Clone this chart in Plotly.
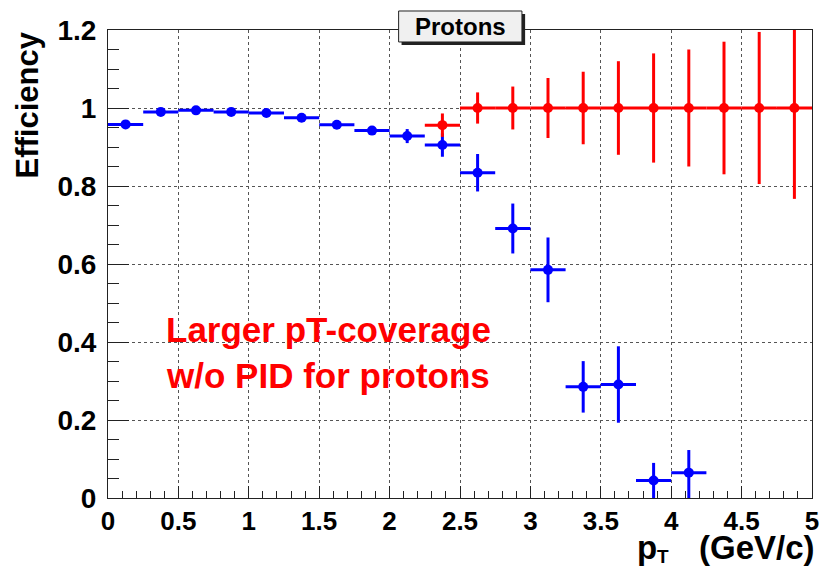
import plotly.graph_objects as go

# ---- data ----
x_blue = [0.125, 0.375, 0.625, 0.875, 1.125, 1.375, 1.625, 1.875, 2.125, 2.375,
          2.625, 2.875, 3.125, 3.375, 3.625, 3.875, 4.125]
y_blue = [0.958, 0.990, 0.994, 0.990, 0.987, 0.975, 0.957, 0.942, 0.928, 0.905,
          0.834, 0.691, 0.585, 0.285, 0.291, 0.045, 0.065]
ey_blue_up = [0.004, 0.003, 0.003, 0.003, 0.004, 0.005, 0.006, 0.008, 0.018, 0.030,
              0.048, 0.064, 0.083, 0.066, 0.098, 0.045, 0.058]
ey_blue_dn = [0.004, 0.003, 0.003, 0.003, 0.004, 0.005, 0.006, 0.008, 0.018, 0.030,
              0.048, 0.064, 0.083, 0.066, 0.098, 0.045, 0.065]

x_red = [2.375, 2.625, 2.875, 3.125, 3.375, 3.625, 3.875, 4.125, 4.375, 4.625, 4.875]
y_red = [0.956, 1.0, 1.0, 1.0, 1.0, 1.0, 1.0, 1.0, 1.0, 1.0, 1.0]
ey_red = [0.030, 0.040, 0.055, 0.077, 0.093, 0.120, 0.140, 0.150, 0.170, 0.195, 0.233]

bin_half = 0.125

x_ticks = [0, 0.5, 1, 1.5, 2, 2.5, 3, 3.5, 4, 4.5, 5]
x_labels = ["0", "0.5", "1", "1.5", "2", "2.5", "3", "3.5", "4", "4.5", "5"]
y_ticks = [0, 0.2, 0.4, 0.6, 0.8, 1.0, 1.2]
y_labels = ["0", "0.2", "0.4", "0.6", "0.8", "1", "1.2"]

FONT = "Liberation Sans, Arial, Helvetica, sans-serif"

fig = go.Figure()

fig.add_trace(go.Scatter(
    x=x_blue, y=y_blue, mode="markers",
    marker=dict(color="#0000ff", size=10, symbol="circle"),
    error_x=dict(type="constant", value=bin_half, color="#0000ff", thickness=3, width=0),
    error_y=dict(type="data", array=ey_blue_up, arrayminus=ey_blue_dn, symmetric=False,
                 color="#0000ff", thickness=3, width=0),
    showlegend=False,
))

fig.add_trace(go.Scatter(
    x=x_red, y=y_red, mode="markers",
    marker=dict(color="#ff0000", size=10, symbol="circle"),
    error_x=dict(type="constant", value=bin_half, color="#ff0000", thickness=3, width=0),
    error_y=dict(type="data", array=ey_red, color="#ff0000", thickness=3, width=0),
    showlegend=False,
))

axis_common = dict(
    showline=True, linecolor="#222222", linewidth=1, mirror=True,
    showgrid=True, gridcolor="#555555", griddash="dot", gridwidth=1,
    zeroline=False, ticks="inside", tickcolor="#222222",
)

fig.update_xaxes(
    range=[0, 5], tickvals=x_ticks, ticktext=x_labels, ticklen=12, tickwidth=1,
    minor=dict(dtick=0.1, ticks="inside", ticklen=7, tickcolor="#222222", showgrid=False),
    ticklabelstandoff=0,
    tickfont=dict(family=FONT, size=26, color="black", weight="bold"),
    **axis_common,
)
fig.update_yaxes(
    range=[0, 1.2], tickvals=y_ticks, ticktext=y_labels, ticklen=21, tickwidth=1,
    minor=dict(dtick=0.05, ticks="inside", ticklen=11, tickcolor="#222222", showgrid=False),
    ticklabelstandoff=5,
    tickfont=dict(family=FONT, size=28, color="black", weight="bold"),
    **axis_common,
)

# Title box with shadow (ROOT-style)
fig.add_shape(type="rect", xref="paper", yref="paper",
              x0=0.4170, x1=0.5925, y0=0.9680, y1=1.0342,
              fillcolor="#222222", line=dict(width=0), layer="above")
fig.add_shape(type="rect", xref="paper", yref="paper",
              x0=0.4128, x1=0.5880, y0=0.9744, y1=1.0406,
              fillcolor="#f0f0f0", line=dict(color="#222222", width=1), layer="above")

fig.update_layout(
    width=831, height=570,
    margin=dict(l=108, r=14, t=30, b=72),
    paper_bgcolor="white", plot_bgcolor="white",
    font=dict(family=FONT, color="black"),
    annotations=[
        dict(text="<b>Protons</b>", xref="paper", yref="paper", x=0.5004, y=1.0075,
             xanchor="center", yanchor="middle", showarrow=False,
             font=dict(family=FONT, size=24, color="black")),
        dict(text="<b>Efficiency</b>", xref="paper", yref="paper", x=-0.115, y=1.0,
             xanchor="center", yanchor="top", textangle=-90, showarrow=False,
             font=dict(family=FONT, size=31, color="black")),
        # x-axis title: p_T (GeV/c), split so the subscript stays inside the canvas
        dict(text="<b>(GeV/c)</b>", xref="paper", yref="paper", x=1.0, y=-0.106,
             xanchor="right", yanchor="middle", xshift=5, showarrow=False,
             font=dict(family=FONT, size=33, color="black")),
        dict(text="<b>p</b>", xref="paper", yref="paper", x=0.766, y=-0.106,
             xanchor="center", yanchor="middle", showarrow=False,
             font=dict(family=FONT, size=33, color="black")),
        dict(text="<b>T</b>", xref="paper", yref="paper", x=0.789, y=-0.1517,
             xanchor="center", yanchor="bottom", showarrow=False,
             font=dict(family=FONT, size=19, color="black")),
        dict(text="<b>Larger pT-coverage<br>w/o PID for protons</b>", xref="paper", yref="paper",
             x=0.313, y=0.31, xanchor="center", yanchor="middle", showarrow=False,
             align="center", font=dict(family=FONT, size=35, color="#ff0000")),
    ],
)

fig.write_html("out.html")
